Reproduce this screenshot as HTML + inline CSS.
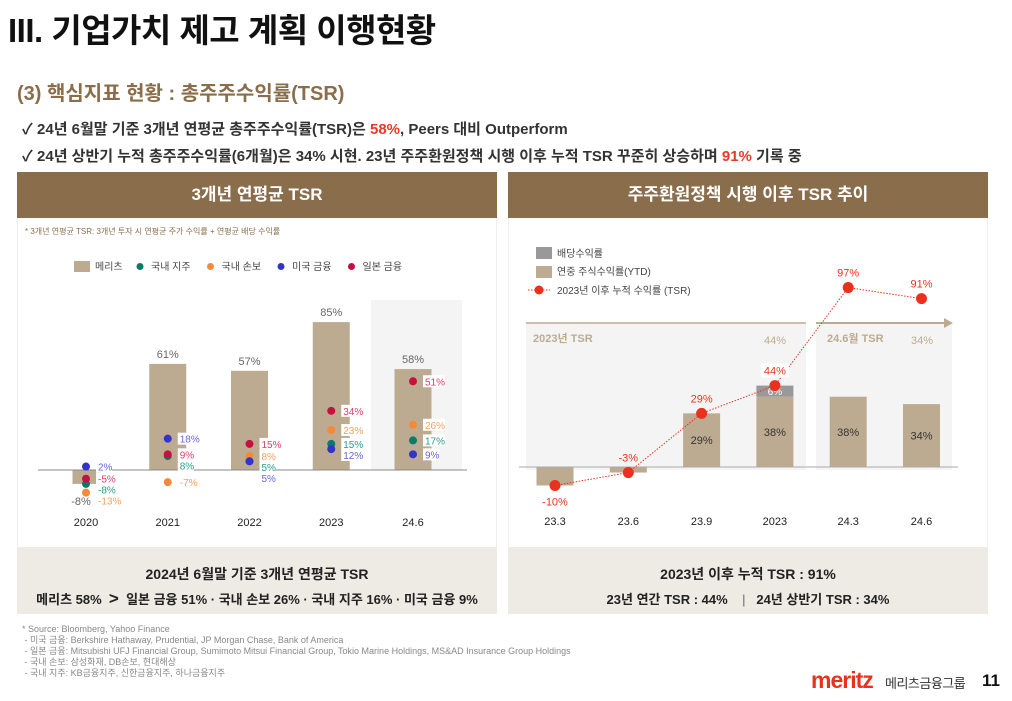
<!DOCTYPE html>
<html><head><meta charset="utf-8"><style>
*{margin:0;padding:0;box-sizing:border-box}
body{width:1012px;height:701px;background:#fff;position:relative;overflow:hidden;font-family:"Liberation Sans","Noto Sans CJK KR",sans-serif;color:#222}
.abs{position:absolute}
.hdr{background:#8a6d4b;color:#fff;font-weight:bold;font-size:17px;text-align:center;line-height:46px;height:46px}
.sum{background:#eeeae4;text-align:center;font-weight:bold;color:#222}
</style></head><body>
<div class="abs" style="left:8px;top:4px;font-size:33px;font-weight:bold;color:#111;letter-spacing:-0.5px">III. 기업가치 제고 계획 이행현황</div>
<div class="abs" style="left:17px;top:77px;font-size:20px;font-weight:bold;color:#8a6d4b">(3) 핵심지표 현황 : 총주주수익률(TSR)</div>
<div class="abs" style="left:22px;top:118px;font-size:15px;font-weight:bold;color:#333">✓ 24년 6월말 기준 3개년 연평균 총주주수익률(TSR)은 <span style="color:#e83a2a">58%</span>, Peers 대비 Outperform</div>
<div class="abs" style="left:22px;top:145px;font-size:15px;font-weight:bold;color:#333">✓ 24년 상반기 누적 총주주수익률(6개월)은 34% 시현. 23년 주주환원정책 시행 이후 누적 TSR 꾸준히 상승하며 <span style="color:#e83a2a">91%</span> 기록 중</div>

<div class="abs" style="left:17px;top:172px;width:480px;height:442px;border:1px solid #eee"></div>
<div class="abs hdr" style="left:17px;top:172px;width:480px">3개년 연평균 TSR</div>
<div class="abs" style="left:25px;top:226px;font-size:8px;color:#8a6d4b">* 3개년 연평균 TSR: 3개년 투자 시 연평균 주가 수익률 + 연평균 배당 수익률</div>
<div class="abs sum" style="left:17px;top:547px;width:480px;height:67px">
<div style="font-size:14px;margin-top:17px">2024년 6월말 기준 3개년 연평균 TSR</div>
<div style="font-size:13px;margin-top:5px">메리츠 58% &nbsp;<b style="font-size:17px">&gt;</b>&nbsp; 일본 금융 51% · 국내 손보 26% · 국내 지주 16% · 미국 금융 9%</div></div>

<div class="abs" style="left:508px;top:172px;width:480px;height:442px;border:1px solid #eee"></div>
<div class="abs hdr" style="left:508px;top:172px;width:480px">주주환원정책 시행 이후 TSR 추이</div>
<div class="abs sum" style="left:508px;top:547px;width:480px;height:67px">
<div style="font-size:14px;margin-top:17px">2023년 이후 누적 TSR : 91%</div>
<div style="font-size:13px;margin-top:5px">23년 연간 TSR : 44% &nbsp;&nbsp; <span style="font-weight:normal;color:#666">|</span> &nbsp;&nbsp;24년 상반기 TSR : 34%</div></div>

<div class="abs" style="left:22px;top:624px;font-size:9px;color:#888;line-height:11px">* Source: Bloomberg, Yahoo Finance<br>&nbsp;- 미국 금융: Berkshire Hathaway, Prudential, JP Morgan Chase, Bank of America<br>&nbsp;- 일본 금융: Mitsubishi UFJ Financial Group, Sumimoto Mitsui Financial Group, Tokio Marine Holdings, MS&amp;AD Insurance Group Holdings<br>&nbsp;- 국내 손보: 삼성화재, DB손보, 현대해상<br>&nbsp;- 국내 지주: KB금융지주, 신한금융지주, 하나금융지주</div>
<div class="abs" style="left:811px;top:667px;font-size:23px;font-weight:bold;color:#e8321e;letter-spacing:-1px">meritz</div>
<div class="abs" style="left:885px;top:673px;font-size:13px;color:#333;letter-spacing:-0.5px">메리츠금융그룹</div>
<div class="abs" style="left:982px;top:671px;font-size:17px;font-weight:bold;color:#111">11</div>

<svg id="svg" class="abs" style="left:0;top:0" width="1012" height="701" xmlns="http://www.w3.org/2000/svg" font-family="Liberation Sans, Noto Sans CJK KR, sans-serif"></svg>
<script>
// Left chart data
const years=['2020','2021','2022','2023','24.6'];
const meritz=[-8,61,57,85,58];
const holding=[-8,8,5,15,17];
const nonlife=[-13,-7,8,23,26];
const usFin=[2,18,5,12,9];
const jpFin=[-5,9,15,34,51];
// Right chart data
const periods=['23.3','23.6','23.9','2023','24.3','24.6'];
const ytd=[-10,-3,29,38,38,34];
const dividend=[0,0,0,6,0,0];
const cumTSR=[-10,-3,29,44,97,91];

const svg=document.getElementById('svg');
const NS='http://www.w3.org/2000/svg';
function el(t,a,txt){const e=document.createElementNS(NS,t);for(const k in a)e.setAttribute(k,a[k]);if(txt!==undefined)e.textContent=txt;svg.appendChild(e);return e;}

// ---- left
const lx=i=>86+i*81.75, ly=v=>470-v*1.74;
let e=el('rect',{x:371,y:300,width:91,height:170,fill:'#f4f4f4'});

e=el('rect',{x:74,y:261,width:16,height:11,fill:'#bcab90'});

el('text',{x:95,y:270,'font-size':10,fill:'#444'},'메리츠');
const series=[['국내 지주',holding,'#0b7a6b','#2a9c8c'],['국내 손보',nonlife,'#f5893a','#f5a060'],['미국 금융',usFin,'#3333cc','#6666dd'],['일본 금융',jpFin,'#c8103e','#d8406a']];
series.forEach((s,k)=>{const x=140+k*70.5;
 e=el('circle',{cx:x,cy:266.5,r:3.5,fill:s[2]});
 
 el('text',{x:x+11,y:270,'font-size':10,fill:'#444'},s[0]);});
meritz.forEach((v,i)=>{const w=i===0?27:37;
 e=el('rect',{x:lx(i)-w/2,y:Math.min(ly(v),470),width:w,height:Math.abs(ly(v)-470),fill:'#bcab90'});
 
 if(v>=0) el('text',{x:lx(i),y:ly(v)-6,'font-size':11,fill:'#666','text-anchor':'middle'},v+'%');
 else el('text',{x:lx(i)-5,y:ly(v)+21,'font-size':11,fill:'#666','text-anchor':'middle'},v+'%');
 el('text',{x:lx(i),y:526,'font-size':11,fill:'#222','text-anchor':'middle'},years[i]);
});
e=el('line',{x1:38,y1:470,x2:467,y2:470,stroke:'#888','stroke-width':1});

years.forEach((y,i)=>{
 const pts=series.map(s=>({v:s[1][i],c:s[2],tc:s[3]}));
 pts.forEach(p=>{e=el('circle',{cx:lx(i),cy:ly(p.v),r:4,fill:p.c});
  });
 const sorted=pts.map(p=>({...p,y:ly(p.v)})).sort((a,b)=>a.y-b.y);
 for(let k=1;k<sorted.length;k++) if(sorted[k].y-sorted[k-1].y<11) sorted[k].y=sorted[k-1].y+11;
 sorted.forEach(p=>{const t=p.v+'%';
  el('rect',{x:lx(i)+10,y:p.y-6,width:t.length*6+4,height:12,fill:'#fff'});
  el('text',{x:lx(i)+12,y:p.y+4,'font-size':10,fill:p.tc},t);});
});

// ---- right
const rx=i=>555+i*73.3, ry=v=>467-v*1.85;
el('rect',{x:526,y:323,width:280,height:147,fill:'#f4f4f4'});
el('rect',{x:816,y:323,width:136,height:147,fill:'#f4f4f4'});
el('line',{x1:526,y1:323,x2:806,y2:323,stroke:'#bcab90','stroke-width':1.5});
el('line',{x1:816,y1:323,x2:945,y2:323,stroke:'#bcab90','stroke-width':2});
el('polygon',{points:'944,318 953,323 944,328',fill:'#bcab90'});
el('text',{x:533,y:342,'font-size':11,fill:'#bcab90','font-weight':'bold'},'2023년 TSR');
el('text',{x:775,y:344,'font-size':11,fill:'#bcab90','text-anchor':'middle'},'44%');
el('text',{x:827,y:342,'font-size':11,fill:'#bcab90','font-weight':'bold'},'24.6월 TSR');
el('text',{x:922,y:344,'font-size':11,fill:'#bcab90','text-anchor':'middle'},'34%');
el('rect',{x:536,y:247,width:16,height:12,fill:'#999'});
el('text',{x:557,y:257,'font-size':10,fill:'#444'},'배당수익률');
el('rect',{x:536,y:266,width:16,height:12,fill:'#bcab90'});
el('text',{x:557,y:275,'font-size':10,fill:'#444'},'연중 주식수익률(YTD)');
el('line',{x1:528,y1:290,x2:550,y2:290,stroke:'#e8321e','stroke-dasharray':'1.5,1.5'});
el('circle',{cx:539,cy:290,r:4.5,fill:'#e8321e'});
el('text',{x:557,y:294,'font-size':10,fill:'#444'},'2023년 이후 누적 수익률 (TSR)');
ytd.forEach((v,i)=>{
 e=el('rect',{x:rx(i)-18.5,y:Math.min(ry(v),467),width:37,height:Math.abs(ry(v)-467),fill:'#bcab90'});
 
 if(v>5) el('text',{x:rx(i),y:(ry(v)+467)/2+4,'font-size':11,fill:'#333','text-anchor':'middle'},v+'%');
 if(dividend[i]>0){e=el('rect',{x:rx(i)-18.5,y:ry(v+dividend[i]),width:37,height:dividend[i]*1.85,fill:'#999'});
  
  el('text',{x:rx(i),y:ry(v+dividend[i]/2)+4,'font-size':10,fill:'#fff','text-anchor':'middle'},dividend[i]+'%');}
 el('text',{x:rx(i),y:525,'font-size':11,fill:'#222','text-anchor':'middle'},periods[i]);
});
el('line',{x1:519,y1:467,x2:958,y2:467,stroke:'#aaa','stroke-width':1});
e=el('polyline',{points:cumTSR.map((v,i)=>rx(i)+','+ry(v)).join(' '),fill:'none',stroke:'#e8321e','stroke-width':1,'stroke-dasharray':'1.5,1.5'});

cumTSR.forEach((v,i)=>{
 e=el('circle',{cx:rx(i),cy:ry(v),r:5.5,fill:'#e8321e'});
 
 const ty=i===0?ry(v)+20:ry(v)-11;
 if(i===3) el('rect',{x:rx(i)-14,y:ty-11,width:28,height:14,fill:'#fff'});
 el('text',{x:rx(i),y:ty,'font-size':11,fill:'#e8321e','text-anchor':'middle'},v+'%');
});
</script>
</body></html>
